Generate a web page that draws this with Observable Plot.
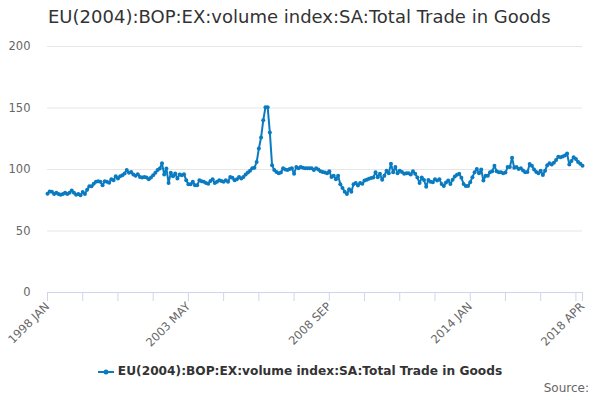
<!DOCTYPE html>
<html><head><meta charset="utf-8">
<script src="https://cdn.jsdelivr.net/npm/d3@7"></script>
<script src="https://cdn.jsdelivr.net/npm/@observablehq/plot@0.6"></script>
<style>
body{margin:0;background:#fff;font-family:"DejaVu Sans",sans-serif;}
#wrap{position:relative;width:600px;height:400px;overflow:hidden;background:#fff;}
#title{position:absolute;left:48px;top:6px;font-size:18px;color:#333;white-space:nowrap;}
#chart{position:absolute;left:0;top:35px;}
#legend{position:absolute;left:0;width:600px;top:364px;text-align:center;font-size:12.2px;font-weight:bold;color:#333;white-space:nowrap;}
#legend svg{vertical-align:middle;margin-right:4px;}
#source{position:absolute;right:11px;top:381px;font-size:12px;color:#666;}
</style></head>
<body>
<div id="wrap">
  <div id="title"></div>
  <div id="chart"></div>
  <div id="legend"></div>
  <div id="source">Source:</div>
</div>
<script>
const seriesName = "EU(2004):BOP:EX:volume index:SA:Total Trade in Goods";
const startYear = 1998;
const monthNames = ["JAN","FEB","MAR","APR","MAY","JUN","JUL","AUG","SEP","OCT","NOV","DEC"];
const values = [
  80.3, 82.2, 82, 80, 81, 80, 79.5, 80, 81, 80,
  81, 83, 81, 79.5, 80, 79, 81.7, 80, 83.6, 86.3,
  86.3, 88.5, 90, 90.4, 90, 87.2, 90.4, 90, 89.3, 92,
  91.3, 94.5, 92.6, 94.5, 95.4, 96.7, 99.5, 97.3, 98, 96,
  95, 96.2, 94, 93.4, 94, 93.4, 92, 93.4, 95.4, 97.3,
  99.5, 100.8, 105, 96, 100.8, 89, 97.3, 94.5, 96.7, 92.6,
  96, 95.4, 96.2, 91.3, 88, 88, 90, 87.2, 87.2, 91.3,
  90.4, 90, 89, 88.5, 90.7, 92, 89, 90, 91.3, 90.7,
  90, 91.3, 90, 94, 93.2, 91.3, 92, 94, 92.6, 94,
  96, 97.5, 99, 101, 101.5, 106, 117, 126, 140, 150.7,
  150.7, 130, 103.5, 99.5, 98, 97, 97.5, 101, 100, 99.5,
  100.5, 101, 96.5, 102, 101, 102, 101.5, 101, 101, 101,
  101, 99.5, 101, 100, 98.6, 98, 97.5, 97, 98.5, 94,
  95, 92, 95, 88, 85, 82, 80, 84, 82, 88,
  89, 87, 89, 88.5, 91, 91.6, 92.5, 93, 93.5, 97.8,
  93.8, 96.5, 91.6, 95, 99, 97, 104.6, 97.8, 102, 97,
  99, 98, 96.5, 97, 97, 96, 98.6, 96.5, 93.5, 89,
  93.5, 91.5, 86, 91.5, 90, 89.7, 92, 91, 92, 88.3,
  86.5, 89.5, 91, 88.3, 91.6, 94.3, 95.7, 96.5, 93.2, 88.3,
  86.5, 86.5, 89.7, 93.8, 97.8, 100.5, 97, 100, 91, 95,
  95, 97.8, 98.6, 103, 98.6, 97.8, 97.8, 97, 97.5, 102,
  102, 109.5, 101.4, 102, 100.5, 101, 99.2, 97.8, 98, 104.5,
  103, 100, 98, 97, 99, 95.5, 99, 103.5, 105, 104,
  105.5, 107.7, 110.4, 110, 110.6, 111.4, 113, 104, 107, 110,
  108.5, 106, 104.6, 103
];
const categories = values.map((v, i) => (startYear + Math.floor(i / 12)) + " " + monthNames[i % 12]);
const xTickLabels = ["1998 JAN", "2003 MAY", "2008 SEP", "2014 JAN", "2018 APR"];
const yTicks = [0, 50, 100, 150, 200];
const lineColor = "#0b7bc1";

const data = values.map((v, i) => ({i, cat: categories[i], v}));
const tickStep = 16;
const xTicks = d3.range(0, values.length, tickStep);
if (xTicks[xTicks.length - 1] !== values.length - 1) xTicks.push(values.length - 1);

document.getElementById("title").textContent = seriesName;

const chart = Plot.plot({
  width: 600, height: 315,
  marginTop: 11, marginBottom: 58, marginLeft: 47, marginRight: 18,
  style: {fontFamily: "DejaVu Sans, sans-serif", fontSize: "11px", background: "transparent", overflow: "visible"},
  x: {domain: [0, values.length - 1], axis: null},
  y: {domain: [0, 200], axis: null},
  marks: [
    Plot.gridY(yTicks, {stroke: "#e6e6e6", strokeOpacity: 1}),
    Plot.axisY(yTicks, {tickSize: 0, tickPadding: 17, fill: "#666", fontSize: 11.5, label: null}),
    Plot.ruleY([0], {stroke: "#ccd6eb", strokeWidth: 1}),
    Plot.axisX(xTicks, {
      tickSize: 9, tickPadding: 3, tickRotate: -45, label: null,
      stroke: "#ccd6eb", fill: "#666", fontSize: 11.5,
      tickFormat: d => xTickLabels.includes(categories[d]) ? categories[d] : ""
    }),
    Plot.line(data, {x: "i", y: "v", stroke: lineColor, strokeWidth: 2}),
    Plot.dot(data, {x: "i", y: "v", r: 2, fill: lineColor, stroke: "none"})
  ]
});
document.getElementById("chart").appendChild(chart);

document.getElementById("legend").innerHTML =
  '<svg width="16" height="10"><line x1="0" y1="5" x2="16" y2="5" stroke="' + lineColor + '" stroke-width="2"/><circle cx="8" cy="5" r="2.5" fill="' + lineColor + '"/></svg>' +
  '<span></span>';
document.querySelector("#legend span").textContent = seriesName;
</script>
</body></html>
